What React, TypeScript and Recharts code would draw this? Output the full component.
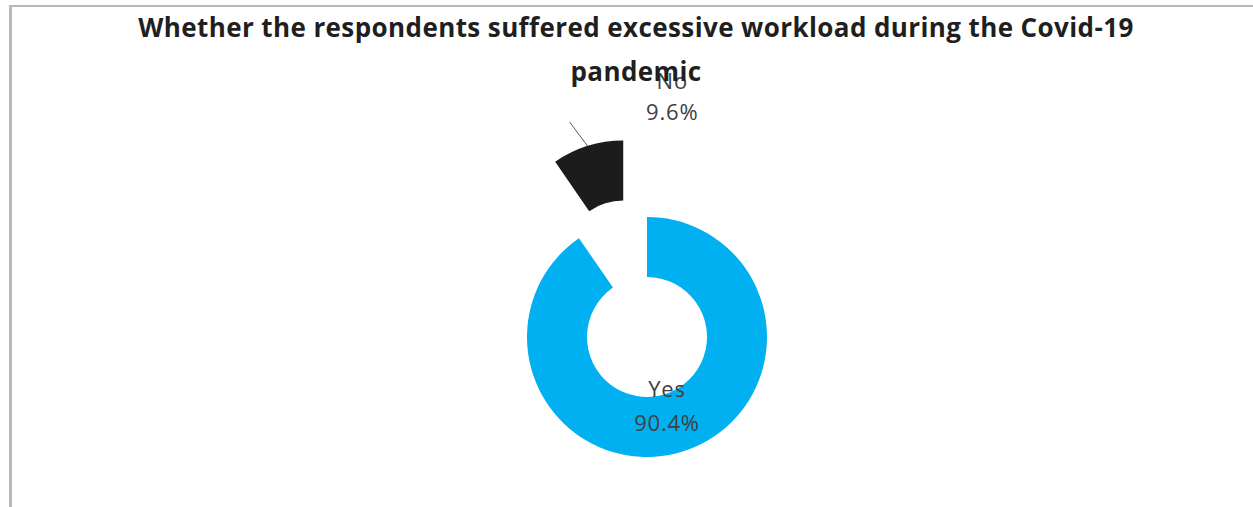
import React from "react";
import { PieChart, Pie, Cell, Sector } from "recharts";

const categories = ["Yes", "No"];
const shares = [90.4, 9.6];
const sliceColors = ["#00B0F0", "#1C1C1C"];
const explodeBy = [0, 80];
const titleLines = [
  "Whether the respondents suffered excessive workload during the Covid-19",
  "pandemic",
];

const data = categories.map((name, i) => ({ name, value: shares[i] }));

const RADIAN = Math.PI / 180;
const shift = (midAngle: number, d: number) => ({
  dx: d * Math.cos(-midAngle * RADIAN),
  dy: d * Math.sin(-midAngle * RADIAN),
});

// label placement relative to the (exploded) slice centre, like Excel put them
const labelPos: Record<string, { x: number; y1: number; y2: number; leader?: [number, number] }> = {
  Yes: { x: 20, y1: 51, y2: 85 },
  No: { x: 49, y1: -181, y2: -150, leader: [-18, -24] },
};

const ExplodedSector = (props: any) => {
  const { cx, cy, midAngle, index } = props;
  const { dx, dy } = shift(midAngle, explodeBy[index] ?? 0);
  return <Sector {...props} cx={cx + dx} cy={cy + dy} />;
};

const renderLabel = (props: any) => {
  const { cx, cy, midAngle, outerRadius, index, name, value } = props;
  const { dx, dy } = shift(midAngle, explodeBy[index] ?? 0);
  const ex = cx + dx;
  const ey = cy + dy;
  const pos = labelPos[name];
  const a = shift(midAngle, outerRadius);
  const textStyle = {
    textAnchor: "middle" as const,
    dominantBaseline: "central" as const,
    fill: "#404040",
    fontSize: 22,
    letterSpacing: 0.8,
    fontFamily: "'Open Sans', sans-serif",
  };
  return (
    <g>
      {pos.leader && (
        <line
          x1={ex + a.dx}
          y1={ey + a.dy}
          x2={ex + a.dx + pos.leader[0]}
          y2={ey + a.dy + pos.leader[1]}
          stroke="#595959"
          strokeWidth={1}
        />
      )}
      <text x={ex + pos.x} y={ey + pos.y1} {...textStyle}>
        {name}
      </text>
      <text x={ex + pos.x} y={ey + pos.y2} {...textStyle}>
        {value.toFixed(1)}%
      </text>
    </g>
  );
};

export default function App() {
  return (
    <div
      style={{
        position: "absolute",
        left: 0,
        top: 0,
        width: 1253,
        height: 507,
        background: "#fff",
        overflow: "hidden",
      }}
    >
      <div
        style={{
          position: "absolute",
          left: 9,
          top: 5,
          width: 1260,
          height: 520,
          borderTop: "2px solid #b8b8b8",
          borderLeft: "3px solid #b8b8b8",
        }}
      />
      <PieChart width={1253} height={507} margin={{ top: 0, right: 0, bottom: 0, left: 0 }}>
        <Pie
          data={data}
          dataKey="value"
          nameKey="name"
          cx={647}
          cy={337}
          innerRadius={60}
          outerRadius={120}
          startAngle={90}
          endAngle={-270}
          stroke="none"
          shape={ExplodedSector}
          label={renderLabel}
          labelLine={false}
          isAnimationActive={false}
        >
          {data.map((d, i) => (
            <Cell key={d.name} fill={sliceColors[i]} />
          ))}
        </Pie>
      </PieChart>
      <div
        style={{
          position: "absolute",
          left: 0,
          top: 5,
          width: 1272,
          textAlign: "center",
          fontFamily: "'Open Sans', sans-serif",
          fontWeight: 700,
          fontSize: 26,
          letterSpacing: 0.4,
          lineHeight: "44px",
          color: "#1f1f1f",
        }}
      >
        {titleLines.map((t) => (
          <div key={t}>{t}</div>
        ))}
      </div>
    </div>
  );
}
